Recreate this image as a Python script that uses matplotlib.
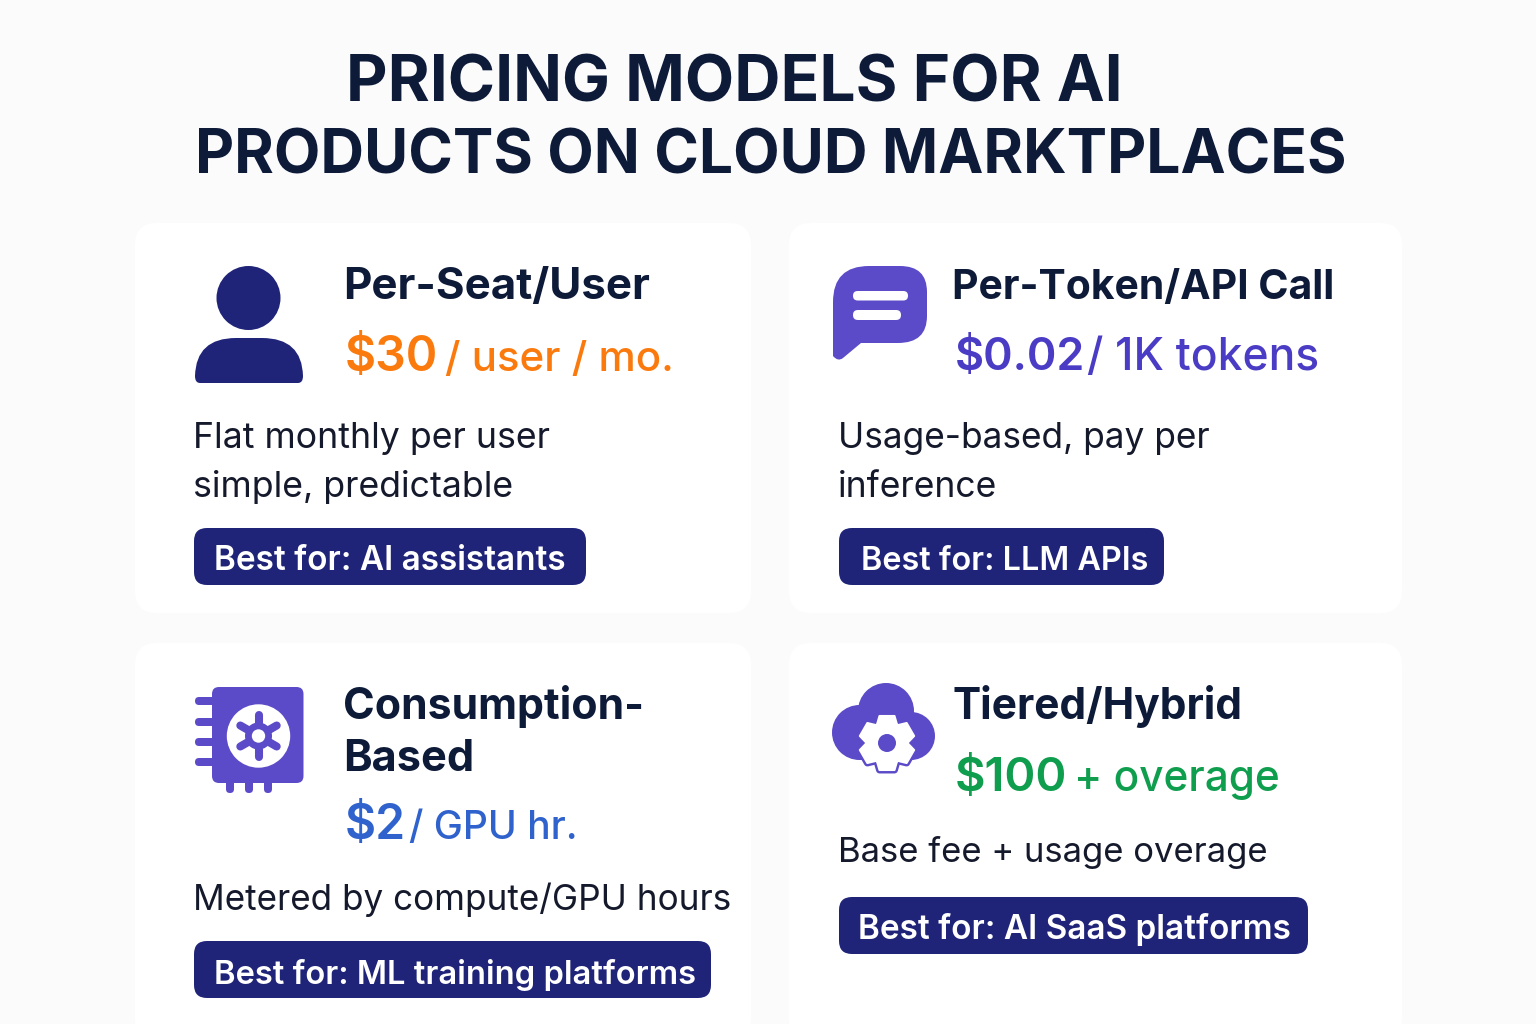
import numpy as np
import matplotlib
matplotlib.use("Agg")
import matplotlib.pyplot as plt
from matplotlib.patches import FancyBboxPatch, Circle, Polygon, PathPatch
from matplotlib.path import Path

# ---- content ----
title_lines = ["PRICING MODELS FOR AI", "PRODUCTS ON CLOUD MARKTPLACES"]
card_titles = [["Per-Seat/User"], ["Per-Token/API Call"], ["Consumption-", "Based"], ["Tiered/Hybrid"]]
price_bold = ["$30", "$0.02", "$2", "$100"]
price_rest = ["/ user / mo.", "/ 1K tokens", "/ GPU hr.", "+ overage"]
descriptions = [["Flat monthly per user", "simple, predictable"],
                ["Usage-based, pay per", "inference"],
                ["Metered by compute/GPU hours"],
                ["Base fee + usage overage"]]
badges = ["Best for: AI assistants", "Best for: LLM APIs", "Best for: ML training platforms", "Best for: AI SaaS platforms"]

# ---- style ----
BG = "#FBFBFC"; INK = "#0D1A38"; BODY = "#15192C"; NAVY = "#1F2478"; PURPLE = "#5B4BC8"
price_colors = ["#FB7A0E", "#4A3CC4", "#2F62CC", "#0F9D4E"]
plt.rcParams["font.family"] = ["Inter", "DejaVu Sans"]
px = 0.72

fig = plt.figure(figsize=(15.36, 10.24), dpi=100, facecolor=BG)
ax = fig.add_axes([0, 0, 1, 1]); ax.set_xlim(0, 1536); ax.set_ylim(1024, 0); ax.axis("off")

def T(x, y, s, size, color=INK, weight="normal", ha="left"):
    return ax.text(x, y, s, fontsize=size*px, color=color, fontweight=weight, ha=ha, va="baseline", zorder=5)

def rbox(x0, y0, x1, y1, r, fc, ec="none", z=1, lw=0):
    p = FancyBboxPatch((x0+r, y0+r), x1-x0-2*r, y1-y0-2*r, boxstyle=f"round,pad={r},rounding_size={r}",
                       fc=fc, ec=ec, lw=lw, zorder=z)
    ax.add_patch(p); return p

# title
T(734.5, 101, title_lines[0], 64, weight="bold", ha="center")
T(771, 174, title_lines[1], 60.5, weight="bold", ha="center")

# cards
cards = [(135, 223, 751, 613), (789, 223, 1402, 613), (135, 643, 751, 1040), (789, 643, 1402, 1040)]
for c in cards:
    rbox(*c, 22, "white")

# icon 1 person
ax.add_patch(Circle((248.5, 298), 32, fc=NAVY, zorder=3))
M, L, C3, CL = Path.MOVETO, Path.LINETO, Path.CURVE3, Path.CLOSEPOLY
body = Path([(200, 383), (195, 383), (195, 376), (196, 338), (236, 338), (262, 338), (302, 338), (303, 376), (303, 383), (298, 383), (200, 383)],
            [M, C3, C3, C3, C3, L, C3, C3, C3, C3, CL])
ax.add_patch(PathPatch(body, fc=NAVY, ec="none", zorder=3))

# icon 2 speech bubble
b = Path([(833, 302), (833, 266), (869, 266), (900, 266), (927, 266), (927, 292), (927, 316), (927, 343), (898, 343),
          (861, 343), (843, 358), (838, 362), (833, 356), (833, 302)],
         [M, C3, C3, L, C3, C3, L, C3, C3, L, L, C3, C3, CL])
ax.add_patch(PathPatch(b, fc=PURPLE, ec="none", zorder=3))
rbox(853, 291, 908, 300.5, 4.7, "white", z=4)
rbox(853, 310, 901, 320, 4.9, "white", z=4)

# icon 3 chip
rbox(212, 687, 303.5, 783, 7, PURPLE, z=3)
for y in [701, 722, 742, 762]:
    rbox(195, y-4, 216, y+4, 4, PURPLE, z=3)
for x in [230, 249, 268]:
    rbox(x-4, 778, x+4, 793, 3.9, PURPLE, z=3)
ax.add_patch(Circle((258.5, 736), 31.7, fc="white", zorder=4))
for a in np.deg2rad([90, 30, -30, -90, 210, 150]):
    x1, y1 = 258.5+21*np.cos(a), 736-21*np.sin(a)
    ax.plot([258.5, x1], [736, y1], color=PURPLE, lw=5.8, solid_capstyle="round", zorder=5)
ax.add_patch(Circle((258.5, 736), 13.5, fc=PURPLE, zorder=5))
ax.add_patch(Circle((258.5, 736), 6.7, fc="white", zorder=6))

# icon 4 cloud gear
for cx, cy, r in [(886, 711, 28), (859.5, 732.5, 27.5), (911, 736, 24)]:
    ax.add_patch(Circle((cx, cy), r, fc=PURPLE, zorder=3))
ax.add_patch(Polygon([(859, 720), (911, 720), (911, 760), (859, 760)], fc=PURPLE, zorder=3))

def gear(cx, cy, fc, ec, lw, z):
    ax.add_patch(Circle((cx, cy), 21, fc=fc, ec=ec, lw=lw, zorder=z))
    for a in np.deg2rad(np.arange(30, 390, 60)):
        c, s = np.cos(a), np.sin(a)
        pts = [(cx + rr*c - o*s, cy - rr*s - o*c) for rr, o in [(15, -11), (27, -7.5), (27, 7.5), (15, 11)]]
        ax.add_patch(Polygon(pts, fc=fc, ec=ec, lw=lw, joinstyle="round", zorder=z))

gear(887, 743, PURPLE, PURPLE, 5, 3.5)
gear(887, 743, "white", "white", 1.5, 4)
ax.add_patch(Circle((887, 743), 9, fc=PURPLE, zorder=5))

# card text
T(343, 299, card_titles[0][0], 43.9, weight="bold")
T(952, 299, card_titles[1][0], 40.9, weight="bold")
T(343, 719, card_titles[2][0], 42.8, weight="bold")
T(343, 771, card_titles[2][1], 43.3, weight="bold")
T(952, 719, card_titles[3][0], 42.4, weight="bold")

price_pos = [(345, 371, 445), (955, 370, 1087), (345, 839, 409), (955, 791, 1074)]
bold_sizes = [48, 44.8, 48, 47]
rest_sizes = [42, 44.3, 39, 42.3]
for i, (x, y, x2) in enumerate(price_pos):
    T(x, y, price_bold[i], bold_sizes[i], price_colors[i], "semibold")
    T(x2, y, price_rest[i], rest_sizes[i], price_colors[i], "medium")

T(193, 448, descriptions[0][0], 35.7, BODY)
T(193, 497, descriptions[0][1], 35.7, BODY)
T(838, 448, descriptions[1][0], 35.3, BODY)
T(838, 497, descriptions[1][1], 35.6, BODY)
T(193, 910, descriptions[2][0], 35.1, BODY)
T(838, 862, descriptions[3][0], 34.7, BODY)

bb = [(194, 528, 586, 585, 214, 570, 33.3), (839, 528, 1164, 585, 861, 570, 32.4),
      (194, 941, 711, 998, 214, 984, 32.7), (839, 897, 1308, 954, 858, 939, 33.3)]
for i, (x0, y0, x1, y1, tx, ty, fs) in enumerate(bb):
    rbox(x0, y0, x1, y1, 13, NAVY, z=3)
    T(tx, ty, badges[i], fs, "white", "semibold")

fig.savefig("out.png", dpi=100, facecolor=BG)
